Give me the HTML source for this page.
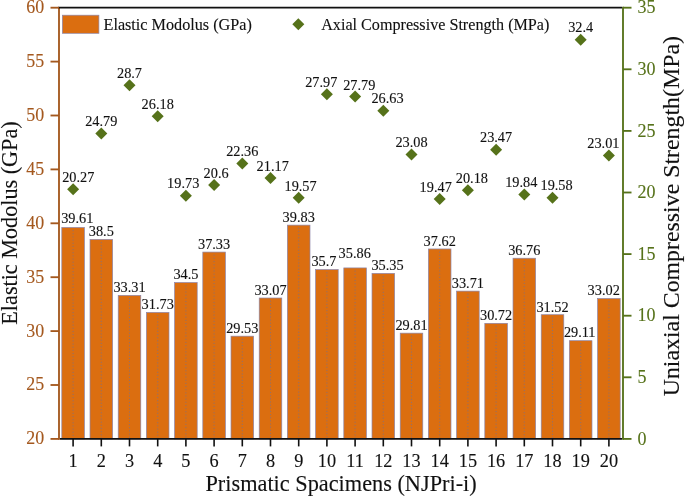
<!DOCTYPE html>
<html><head><meta charset="utf-8"><title>chart</title>
<style>html,body{margin:0;padding:0;background:#fff}svg{display:block}text{font-family:"Liberation Serif","Times New Roman",serif;stroke-width:0.12px}.k{fill:#111;stroke:#111}.a{fill:#A4581E;stroke:#A4581E}.g{fill:#56721A;stroke:#56721A}</style></head><body>
<svg width="685" height="498" viewBox="0 0 685 498">
<rect width="685" height="498" fill="#fff"/>
<rect x="61.82" y="227.50" width="22.56" height="211.40" fill="#DB6E10" stroke="#8C84A8" stroke-width="0.7"/>
<line x1="73.10" y1="230.10" x2="73.10" y2="438.90" stroke="#85707c" stroke-width="0.85" stroke-dasharray="1.15 2"/>
<rect x="90.02" y="239.47" width="22.56" height="199.43" fill="#DB6E10" stroke="#8C84A8" stroke-width="0.7"/>
<line x1="101.30" y1="242.07" x2="101.30" y2="438.90" stroke="#85707c" stroke-width="0.85" stroke-dasharray="1.15 2"/>
<rect x="118.22" y="295.42" width="22.56" height="143.48" fill="#DB6E10" stroke="#8C84A8" stroke-width="0.7"/>
<line x1="129.50" y1="298.02" x2="129.50" y2="438.90" stroke="#85707c" stroke-width="0.85" stroke-dasharray="1.15 2"/>
<rect x="146.42" y="312.45" width="22.56" height="126.45" fill="#DB6E10" stroke="#8C84A8" stroke-width="0.7"/>
<line x1="157.70" y1="315.05" x2="157.70" y2="438.90" stroke="#85707c" stroke-width="0.85" stroke-dasharray="1.15 2"/>
<rect x="174.62" y="282.59" width="22.56" height="156.31" fill="#DB6E10" stroke="#8C84A8" stroke-width="0.7"/>
<line x1="185.90" y1="285.19" x2="185.90" y2="438.90" stroke="#85707c" stroke-width="0.85" stroke-dasharray="1.15 2"/>
<rect x="202.82" y="252.08" width="22.56" height="186.82" fill="#DB6E10" stroke="#8C84A8" stroke-width="0.7"/>
<line x1="214.10" y1="254.68" x2="214.10" y2="438.90" stroke="#85707c" stroke-width="0.85" stroke-dasharray="1.15 2"/>
<rect x="231.02" y="336.17" width="22.56" height="102.73" fill="#DB6E10" stroke="#8C84A8" stroke-width="0.7"/>
<line x1="242.30" y1="338.77" x2="242.30" y2="438.90" stroke="#85707c" stroke-width="0.85" stroke-dasharray="1.15 2"/>
<rect x="259.22" y="298.01" width="22.56" height="140.89" fill="#DB6E10" stroke="#8C84A8" stroke-width="0.7"/>
<line x1="270.50" y1="300.61" x2="270.50" y2="438.90" stroke="#85707c" stroke-width="0.85" stroke-dasharray="1.15 2"/>
<rect x="287.42" y="225.13" width="22.56" height="213.77" fill="#DB6E10" stroke="#8C84A8" stroke-width="0.7"/>
<line x1="298.70" y1="227.73" x2="298.70" y2="438.90" stroke="#85707c" stroke-width="0.85" stroke-dasharray="1.15 2"/>
<rect x="315.62" y="269.65" width="22.56" height="169.25" fill="#DB6E10" stroke="#8C84A8" stroke-width="0.7"/>
<line x1="326.90" y1="272.25" x2="326.90" y2="438.90" stroke="#85707c" stroke-width="0.85" stroke-dasharray="1.15 2"/>
<rect x="343.82" y="267.93" width="22.56" height="170.97" fill="#DB6E10" stroke="#8C84A8" stroke-width="0.7"/>
<line x1="355.10" y1="270.53" x2="355.10" y2="438.90" stroke="#85707c" stroke-width="0.85" stroke-dasharray="1.15 2"/>
<rect x="372.02" y="273.43" width="22.56" height="165.47" fill="#DB6E10" stroke="#8C84A8" stroke-width="0.7"/>
<line x1="383.30" y1="276.03" x2="383.30" y2="438.90" stroke="#85707c" stroke-width="0.85" stroke-dasharray="1.15 2"/>
<rect x="400.22" y="333.15" width="22.56" height="105.75" fill="#DB6E10" stroke="#8C84A8" stroke-width="0.7"/>
<line x1="411.50" y1="335.75" x2="411.50" y2="438.90" stroke="#85707c" stroke-width="0.85" stroke-dasharray="1.15 2"/>
<rect x="428.42" y="248.96" width="22.56" height="189.94" fill="#DB6E10" stroke="#8C84A8" stroke-width="0.7"/>
<line x1="439.70" y1="251.56" x2="439.70" y2="438.90" stroke="#85707c" stroke-width="0.85" stroke-dasharray="1.15 2"/>
<rect x="456.62" y="291.11" width="22.56" height="147.79" fill="#DB6E10" stroke="#8C84A8" stroke-width="0.7"/>
<line x1="467.90" y1="293.71" x2="467.90" y2="438.90" stroke="#85707c" stroke-width="0.85" stroke-dasharray="1.15 2"/>
<rect x="484.82" y="323.34" width="22.56" height="115.56" fill="#DB6E10" stroke="#8C84A8" stroke-width="0.7"/>
<line x1="496.10" y1="325.94" x2="496.10" y2="438.90" stroke="#85707c" stroke-width="0.85" stroke-dasharray="1.15 2"/>
<rect x="513.02" y="258.23" width="22.56" height="180.67" fill="#DB6E10" stroke="#8C84A8" stroke-width="0.7"/>
<line x1="524.30" y1="260.83" x2="524.30" y2="438.90" stroke="#85707c" stroke-width="0.85" stroke-dasharray="1.15 2"/>
<rect x="541.22" y="314.71" width="22.56" height="124.19" fill="#DB6E10" stroke="#8C84A8" stroke-width="0.7"/>
<line x1="552.50" y1="317.31" x2="552.50" y2="438.90" stroke="#85707c" stroke-width="0.85" stroke-dasharray="1.15 2"/>
<rect x="569.42" y="340.69" width="22.56" height="98.21" fill="#DB6E10" stroke="#8C84A8" stroke-width="0.7"/>
<line x1="580.70" y1="343.29" x2="580.70" y2="438.90" stroke="#85707c" stroke-width="0.85" stroke-dasharray="1.15 2"/>
<rect x="597.62" y="298.54" width="22.56" height="140.36" fill="#DB6E10" stroke="#8C84A8" stroke-width="0.7"/>
<line x1="608.90" y1="301.14" x2="608.90" y2="438.90" stroke="#85707c" stroke-width="0.85" stroke-dasharray="1.15 2"/>
<path d="M73.10 183.17L79.10 189.17L73.10 195.17L67.10 189.17Z" fill="#56721A"/>
<path d="M101.30 127.49L107.30 133.49L101.30 139.49L95.30 133.49Z" fill="#56721A"/>
<path d="M129.50 79.32L135.50 85.32L129.50 91.32L123.50 85.32Z" fill="#56721A"/>
<path d="M157.70 110.36L163.70 116.36L157.70 122.36L151.70 116.36Z" fill="#56721A"/>
<path d="M185.90 189.83L191.90 195.83L185.90 201.83L179.90 195.83Z" fill="#56721A"/>
<path d="M214.10 179.11L220.10 185.11L214.10 191.11L208.10 185.11Z" fill="#56721A"/>
<path d="M242.30 157.42L248.30 163.42L242.30 169.42L236.30 163.42Z" fill="#56721A"/>
<path d="M270.50 172.09L276.50 178.09L270.50 184.09L264.50 178.09Z" fill="#56721A"/>
<path d="M298.70 191.80L304.70 197.80L298.70 203.80L292.70 197.80Z" fill="#56721A"/>
<path d="M326.90 88.31L332.90 94.31L326.90 100.31L320.90 94.31Z" fill="#56721A"/>
<path d="M355.10 90.53L361.10 96.53L355.10 102.53L349.10 96.53Z" fill="#56721A"/>
<path d="M383.30 104.82L389.30 110.82L383.30 116.82L377.30 110.82Z" fill="#56721A"/>
<path d="M411.50 148.55L417.50 154.55L411.50 160.55L405.50 154.55Z" fill="#56721A"/>
<path d="M439.70 193.03L445.70 199.03L439.70 205.03L433.70 199.03Z" fill="#56721A"/>
<path d="M467.90 184.28L473.90 190.28L467.90 196.28L461.90 190.28Z" fill="#56721A"/>
<path d="M496.10 143.75L502.10 149.75L496.10 155.75L490.10 149.75Z" fill="#56721A"/>
<path d="M524.30 188.47L530.30 194.47L524.30 200.47L518.30 194.47Z" fill="#56721A"/>
<path d="M552.50 191.67L558.50 197.67L552.50 203.67L546.50 197.67Z" fill="#56721A"/>
<path d="M580.70 33.73L586.70 39.73L580.70 45.73L574.70 39.73Z" fill="#56721A"/>
<path d="M608.90 149.42L614.90 155.42L608.90 161.42L602.90 155.42Z" fill="#56721A"/>
<text class="k" x="77.30" y="222.50" font-size="14.3" text-anchor="middle">39.61</text>
<text class="k" x="101.30" y="236.27" font-size="14.3" text-anchor="middle">38.5</text>
<text class="k" x="129.50" y="292.22" font-size="14.3" text-anchor="middle">33.31</text>
<text class="k" x="157.70" y="309.25" font-size="14.3" text-anchor="middle">31.73</text>
<text class="k" x="185.90" y="279.39" font-size="14.3" text-anchor="middle">34.5</text>
<text class="k" x="214.10" y="248.88" font-size="14.3" text-anchor="middle">37.33</text>
<text class="k" x="242.30" y="332.97" font-size="14.3" text-anchor="middle">29.53</text>
<text class="k" x="270.50" y="294.81" font-size="14.3" text-anchor="middle">33.07</text>
<text class="k" x="298.70" y="221.93" font-size="14.3" text-anchor="middle">39.83</text>
<text class="k" x="323.90" y="266.45" font-size="14.3" text-anchor="middle">35.7</text>
<text class="k" x="354.70" y="258.33" font-size="14.3" text-anchor="middle">35.86</text>
<text class="k" x="387.50" y="270.23" font-size="14.3" text-anchor="middle">35.35</text>
<text class="k" x="411.50" y="329.95" font-size="14.3" text-anchor="middle">29.81</text>
<text class="k" x="439.70" y="245.76" font-size="14.3" text-anchor="middle">37.62</text>
<text class="k" x="467.90" y="287.91" font-size="14.3" text-anchor="middle">33.71</text>
<text class="k" x="496.10" y="320.14" font-size="14.3" text-anchor="middle">30.72</text>
<text class="k" x="524.30" y="255.03" font-size="14.3" text-anchor="middle">36.76</text>
<text class="k" x="552.50" y="311.51" font-size="14.3" text-anchor="middle">31.52</text>
<text class="k" x="579.70" y="337.49" font-size="14.3" text-anchor="middle">29.11</text>
<text class="k" x="603.70" y="295.34" font-size="14.3" text-anchor="middle">33.02</text>
<text class="k" x="78.30" y="181.77" font-size="14.3" text-anchor="middle">20.27</text>
<text class="k" x="101.30" y="126.09" font-size="14.3" text-anchor="middle">24.79</text>
<text class="k" x="129.50" y="77.92" font-size="14.3" text-anchor="middle">28.7</text>
<text class="k" x="157.70" y="108.96" font-size="14.3" text-anchor="middle">26.18</text>
<text class="k" x="183.20" y="188.43" font-size="14.3" text-anchor="middle">19.73</text>
<text class="k" x="216.10" y="177.71" font-size="14.3" text-anchor="middle">20.6</text>
<text class="k" x="242.30" y="156.02" font-size="14.3" text-anchor="middle">22.36</text>
<text class="k" x="272.70" y="170.69" font-size="14.3" text-anchor="middle">21.17</text>
<text class="k" x="300.60" y="191.20" font-size="14.3" text-anchor="middle">19.57</text>
<text class="k" x="321.30" y="86.91" font-size="14.3" text-anchor="middle">27.97</text>
<text class="k" x="359.30" y="89.63" font-size="14.3" text-anchor="middle">27.79</text>
<text class="k" x="387.50" y="103.42" font-size="14.3" text-anchor="middle">26.63</text>
<text class="k" x="411.50" y="147.15" font-size="14.3" text-anchor="middle">23.08</text>
<text class="k" x="435.70" y="191.63" font-size="14.3" text-anchor="middle">19.47</text>
<text class="k" x="471.90" y="182.88" font-size="14.3" text-anchor="middle">20.18</text>
<text class="k" x="496.10" y="142.35" font-size="14.3" text-anchor="middle">23.47</text>
<text class="k" x="521.30" y="187.07" font-size="14.3" text-anchor="middle">19.84</text>
<text class="k" x="556.60" y="190.27" font-size="14.3" text-anchor="middle">19.58</text>
<text class="k" x="580.70" y="32.33" font-size="14.3" text-anchor="middle">32.4</text>
<text class="k" x="603.40" y="148.02" font-size="14.3" text-anchor="middle">23.01</text>
<line x1="59.0" y1="7.7" x2="59.0" y2="439.79999999999995" stroke="#A4581E" stroke-width="1.85"/>
<line x1="623.0" y1="6.8" x2="623.0" y2="439.79999999999995" stroke="#56721A" stroke-width="1.85"/>
<line x1="58.1" y1="7.7" x2="622.1" y2="7.7" stroke="#111" stroke-width="1.7"/>
<line x1="59.9" y1="438.9" x2="622.1" y2="438.9" stroke="#111" stroke-width="1.7"/>
<line x1="50.5" y1="438.90" x2="59.0" y2="438.90" stroke="#A4581E" stroke-width="1.85"/>
<text class="a" x="44.2" y="444.35" font-size="17.9" text-anchor="end">20</text>
<line x1="50.5" y1="385.00" x2="59.0" y2="385.00" stroke="#A4581E" stroke-width="1.85"/>
<text class="a" x="44.2" y="390.45" font-size="17.9" text-anchor="end">25</text>
<line x1="50.5" y1="331.10" x2="59.0" y2="331.10" stroke="#A4581E" stroke-width="1.85"/>
<text class="a" x="44.2" y="336.55" font-size="17.9" text-anchor="end">30</text>
<line x1="50.5" y1="277.20" x2="59.0" y2="277.20" stroke="#A4581E" stroke-width="1.85"/>
<text class="a" x="44.2" y="282.65" font-size="17.9" text-anchor="end">35</text>
<line x1="50.5" y1="223.30" x2="59.0" y2="223.30" stroke="#A4581E" stroke-width="1.85"/>
<text class="a" x="44.2" y="228.75" font-size="17.9" text-anchor="end">40</text>
<line x1="50.5" y1="169.40" x2="59.0" y2="169.40" stroke="#A4581E" stroke-width="1.85"/>
<text class="a" x="44.2" y="174.85" font-size="17.9" text-anchor="end">45</text>
<line x1="50.5" y1="115.50" x2="59.0" y2="115.50" stroke="#A4581E" stroke-width="1.85"/>
<text class="a" x="44.2" y="120.95" font-size="17.9" text-anchor="end">50</text>
<line x1="50.5" y1="61.60" x2="59.0" y2="61.60" stroke="#A4581E" stroke-width="1.85"/>
<text class="a" x="44.2" y="67.05" font-size="17.9" text-anchor="end">55</text>
<line x1="50.5" y1="7.70" x2="59.0" y2="7.70" stroke="#A4581E" stroke-width="1.85"/>
<text class="a" x="44.2" y="13.15" font-size="17.9" text-anchor="end">60</text>
<line x1="623.0" y1="438.90" x2="631.5" y2="438.90" stroke="#56721A" stroke-width="1.85"/>
<text class="g" x="637.4" y="444.60" font-size="18" text-anchor="start">0</text>
<line x1="623.0" y1="377.30" x2="631.5" y2="377.30" stroke="#56721A" stroke-width="1.85"/>
<text class="g" x="637.4" y="383.00" font-size="18" text-anchor="start">5</text>
<line x1="623.0" y1="315.70" x2="631.5" y2="315.70" stroke="#56721A" stroke-width="1.85"/>
<text class="g" x="637.4" y="321.40" font-size="18" text-anchor="start">10</text>
<line x1="623.0" y1="254.10" x2="631.5" y2="254.10" stroke="#56721A" stroke-width="1.85"/>
<text class="g" x="637.4" y="259.80" font-size="18" text-anchor="start">15</text>
<line x1="623.0" y1="192.50" x2="631.5" y2="192.50" stroke="#56721A" stroke-width="1.85"/>
<text class="g" x="637.4" y="198.20" font-size="18" text-anchor="start">20</text>
<line x1="623.0" y1="130.90" x2="631.5" y2="130.90" stroke="#56721A" stroke-width="1.85"/>
<text class="g" x="637.4" y="136.60" font-size="18" text-anchor="start">25</text>
<line x1="623.0" y1="69.30" x2="631.5" y2="69.30" stroke="#56721A" stroke-width="1.85"/>
<text class="g" x="637.4" y="75.00" font-size="18" text-anchor="start">30</text>
<line x1="623.0" y1="7.70" x2="631.5" y2="7.70" stroke="#56721A" stroke-width="1.85"/>
<text class="g" x="637.4" y="13.40" font-size="18" text-anchor="start">35</text>
<line x1="73.10" y1="438.9" x2="73.10" y2="446.4" stroke="#111" stroke-width="1.6"/>
<text class="k" x="73.10" y="466.70" font-size="18.3" text-anchor="middle">1</text>
<line x1="101.30" y1="438.9" x2="101.30" y2="446.4" stroke="#111" stroke-width="1.6"/>
<text class="k" x="101.30" y="466.70" font-size="18.3" text-anchor="middle">2</text>
<line x1="129.50" y1="438.9" x2="129.50" y2="446.4" stroke="#111" stroke-width="1.6"/>
<text class="k" x="129.50" y="466.70" font-size="18.3" text-anchor="middle">3</text>
<line x1="157.70" y1="438.9" x2="157.70" y2="446.4" stroke="#111" stroke-width="1.6"/>
<text class="k" x="157.70" y="466.70" font-size="18.3" text-anchor="middle">4</text>
<line x1="185.90" y1="438.9" x2="185.90" y2="446.4" stroke="#111" stroke-width="1.6"/>
<text class="k" x="185.90" y="466.70" font-size="18.3" text-anchor="middle">5</text>
<line x1="214.10" y1="438.9" x2="214.10" y2="446.4" stroke="#111" stroke-width="1.6"/>
<text class="k" x="214.10" y="466.70" font-size="18.3" text-anchor="middle">6</text>
<line x1="242.30" y1="438.9" x2="242.30" y2="446.4" stroke="#111" stroke-width="1.6"/>
<text class="k" x="242.30" y="466.70" font-size="18.3" text-anchor="middle">7</text>
<line x1="270.50" y1="438.9" x2="270.50" y2="446.4" stroke="#111" stroke-width="1.6"/>
<text class="k" x="270.50" y="466.70" font-size="18.3" text-anchor="middle">8</text>
<line x1="298.70" y1="438.9" x2="298.70" y2="446.4" stroke="#111" stroke-width="1.6"/>
<text class="k" x="298.70" y="466.70" font-size="18.3" text-anchor="middle">9</text>
<line x1="326.90" y1="438.9" x2="326.90" y2="446.4" stroke="#111" stroke-width="1.6"/>
<text class="k" x="326.90" y="466.70" font-size="18.3" text-anchor="middle">10</text>
<line x1="355.10" y1="438.9" x2="355.10" y2="446.4" stroke="#111" stroke-width="1.6"/>
<text class="k" x="355.10" y="466.70" font-size="18.3" text-anchor="middle">11</text>
<line x1="383.30" y1="438.9" x2="383.30" y2="446.4" stroke="#111" stroke-width="1.6"/>
<text class="k" x="383.30" y="466.70" font-size="18.3" text-anchor="middle">12</text>
<line x1="411.50" y1="438.9" x2="411.50" y2="446.4" stroke="#111" stroke-width="1.6"/>
<text class="k" x="411.50" y="466.70" font-size="18.3" text-anchor="middle">13</text>
<line x1="439.70" y1="438.9" x2="439.70" y2="446.4" stroke="#111" stroke-width="1.6"/>
<text class="k" x="439.70" y="466.70" font-size="18.3" text-anchor="middle">14</text>
<line x1="467.90" y1="438.9" x2="467.90" y2="446.4" stroke="#111" stroke-width="1.6"/>
<text class="k" x="467.90" y="466.70" font-size="18.3" text-anchor="middle">15</text>
<line x1="496.10" y1="438.9" x2="496.10" y2="446.4" stroke="#111" stroke-width="1.6"/>
<text class="k" x="496.10" y="466.70" font-size="18.3" text-anchor="middle">16</text>
<line x1="524.30" y1="438.9" x2="524.30" y2="446.4" stroke="#111" stroke-width="1.6"/>
<text class="k" x="524.30" y="466.70" font-size="18.3" text-anchor="middle">17</text>
<line x1="552.50" y1="438.9" x2="552.50" y2="446.4" stroke="#111" stroke-width="1.6"/>
<text class="k" x="552.50" y="466.70" font-size="18.3" text-anchor="middle">18</text>
<line x1="580.70" y1="438.9" x2="580.70" y2="446.4" stroke="#111" stroke-width="1.6"/>
<text class="k" x="580.70" y="466.70" font-size="18.3" text-anchor="middle">19</text>
<line x1="608.90" y1="438.9" x2="608.90" y2="446.4" stroke="#111" stroke-width="1.6"/>
<text class="k" x="608.90" y="466.70" font-size="18.3" text-anchor="middle">20</text>
<text class="k" x="341.1" y="491.4" font-size="22.3" text-anchor="middle">Prismatic Spacimens (NJPri-i)</text>
<text class="k" transform="translate(17.3,223) rotate(-90)" font-size="22.2" text-anchor="middle">Elastic Modolus (GPa)</text>
<text class="k" transform="translate(679.2,216.2) rotate(-90)" font-size="23.85" text-anchor="middle">Uniaxial Compressive Strength(MPa)</text>
<rect x="62.4" y="15.2" width="36.5" height="18.1" fill="#DB6E10" stroke="#8C84A8" stroke-width="0.7"/>
<text class="k" x="103.5" y="29.5" font-size="16.2" >Elastic Modolus (GPa)</text>
<path d="M298.30 18.30L304.30 24.30L298.30 30.30L292.30 24.30Z" fill="#56721A"/>
<text class="k" x="321.2" y="29.5" font-size="16.15">Axial Compressive Strength (MPa)</text>
</svg></body></html>
